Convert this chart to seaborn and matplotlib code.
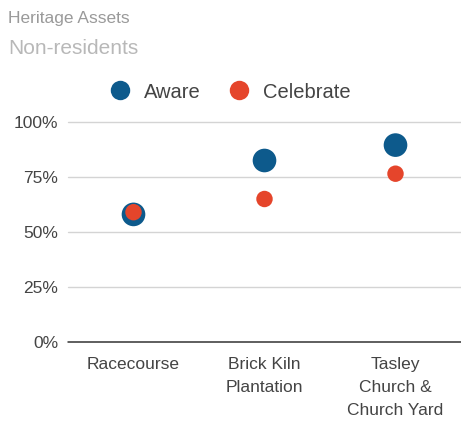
import matplotlib
matplotlib.use("Agg")
import matplotlib.pyplot as plt
from matplotlib.lines import Line2D
import seaborn as sns
import pandas as pd

sites = ["Racecourse", "Brick Kiln\nPlantation", "Tasley\nChurch &\nChurch Yard"]
aware = [0.58, 0.825, 0.895]
celebrate = [0.59, 0.65, 0.765]
y_ticks = [0, 0.25, 0.5, 0.75, 1.0]
y_tick_labels = ["0%", "25%", "50%", "75%", "100%"]

colors = {"Aware": "#0d5a8c", "Celebrate": "#e5452b"}
sizes = {"Aware": 290, "Celebrate": 140}

df = pd.DataFrame({
    "site": sites * 2,
    "value": aware + celebrate,
    "measure": ["Aware"] * len(sites) + ["Celebrate"] * len(sites),
})

sns.set_theme(style="white")
plt.rcParams["font.family"] = ["Liberation Sans", "DejaVu Sans"]

fig = plt.figure(figsize=(4.61, 4.21), dpi=100)
ax = fig.add_axes([68 / 461, 79 / 421, 1 - 68 / 461, 220 / 421])

sns.scatterplot(data=df, x="site", y="value", hue="measure", size="measure",
                sizes=sizes, palette=colors, linewidth=0, legend=False,
                ax=ax, zorder=3, clip_on=False)

ax.set_xlim(-0.5, len(sites) - 0.5)
ax.set_ylim(0, 1.0)
ax.set_yticks(y_ticks)
ax.set_yticklabels(y_tick_labels, fontsize=12.5)
ax.set_xticks(range(len(sites)))
ax.set_xticklabels(sites, fontsize=12.5, linespacing=1.65)
ax.set_xlabel("")
ax.set_ylabel("")
for y in y_ticks[1:]:
    ax.axhline(y, color="#d4d4d4", lw=1, zorder=1, clip_on=False)
ax.axhline(0, color="#333333", lw=1.1, zorder=2, clip_on=False)
for s in ax.spines.values():
    s.set_visible(False)
ax.tick_params(axis="both", length=0, colors="#444444")
ax.tick_params(axis="y", pad=7)
ax.tick_params(axis="x", pad=11)

fig.text(8 / 461, 1 - 18 / 421, "Heritage Assets", fontsize=12.5, color="#9a9a9a",
         va="center", ha="left")
fig.text(8 / 461, 1 - 49 / 421, "Non-residents", fontsize=15, color="#b8b8b8",
         va="center", ha="left")

handles = [Line2D([], [], marker="o", ls="", markersize=14, markeredgewidth=0,
                  color=colors[k], label=k) for k in ["Aware", "Celebrate"]]
fig.legend(handles=handles, loc="center", bbox_to_anchor=(0.489, 1 - 92 / 421),
           ncol=2, frameon=False, fontsize=14.5, handletextpad=0.2,
           columnspacing=0.9, labelcolor="#444444")

fig.savefig("out.png", dpi=100)
